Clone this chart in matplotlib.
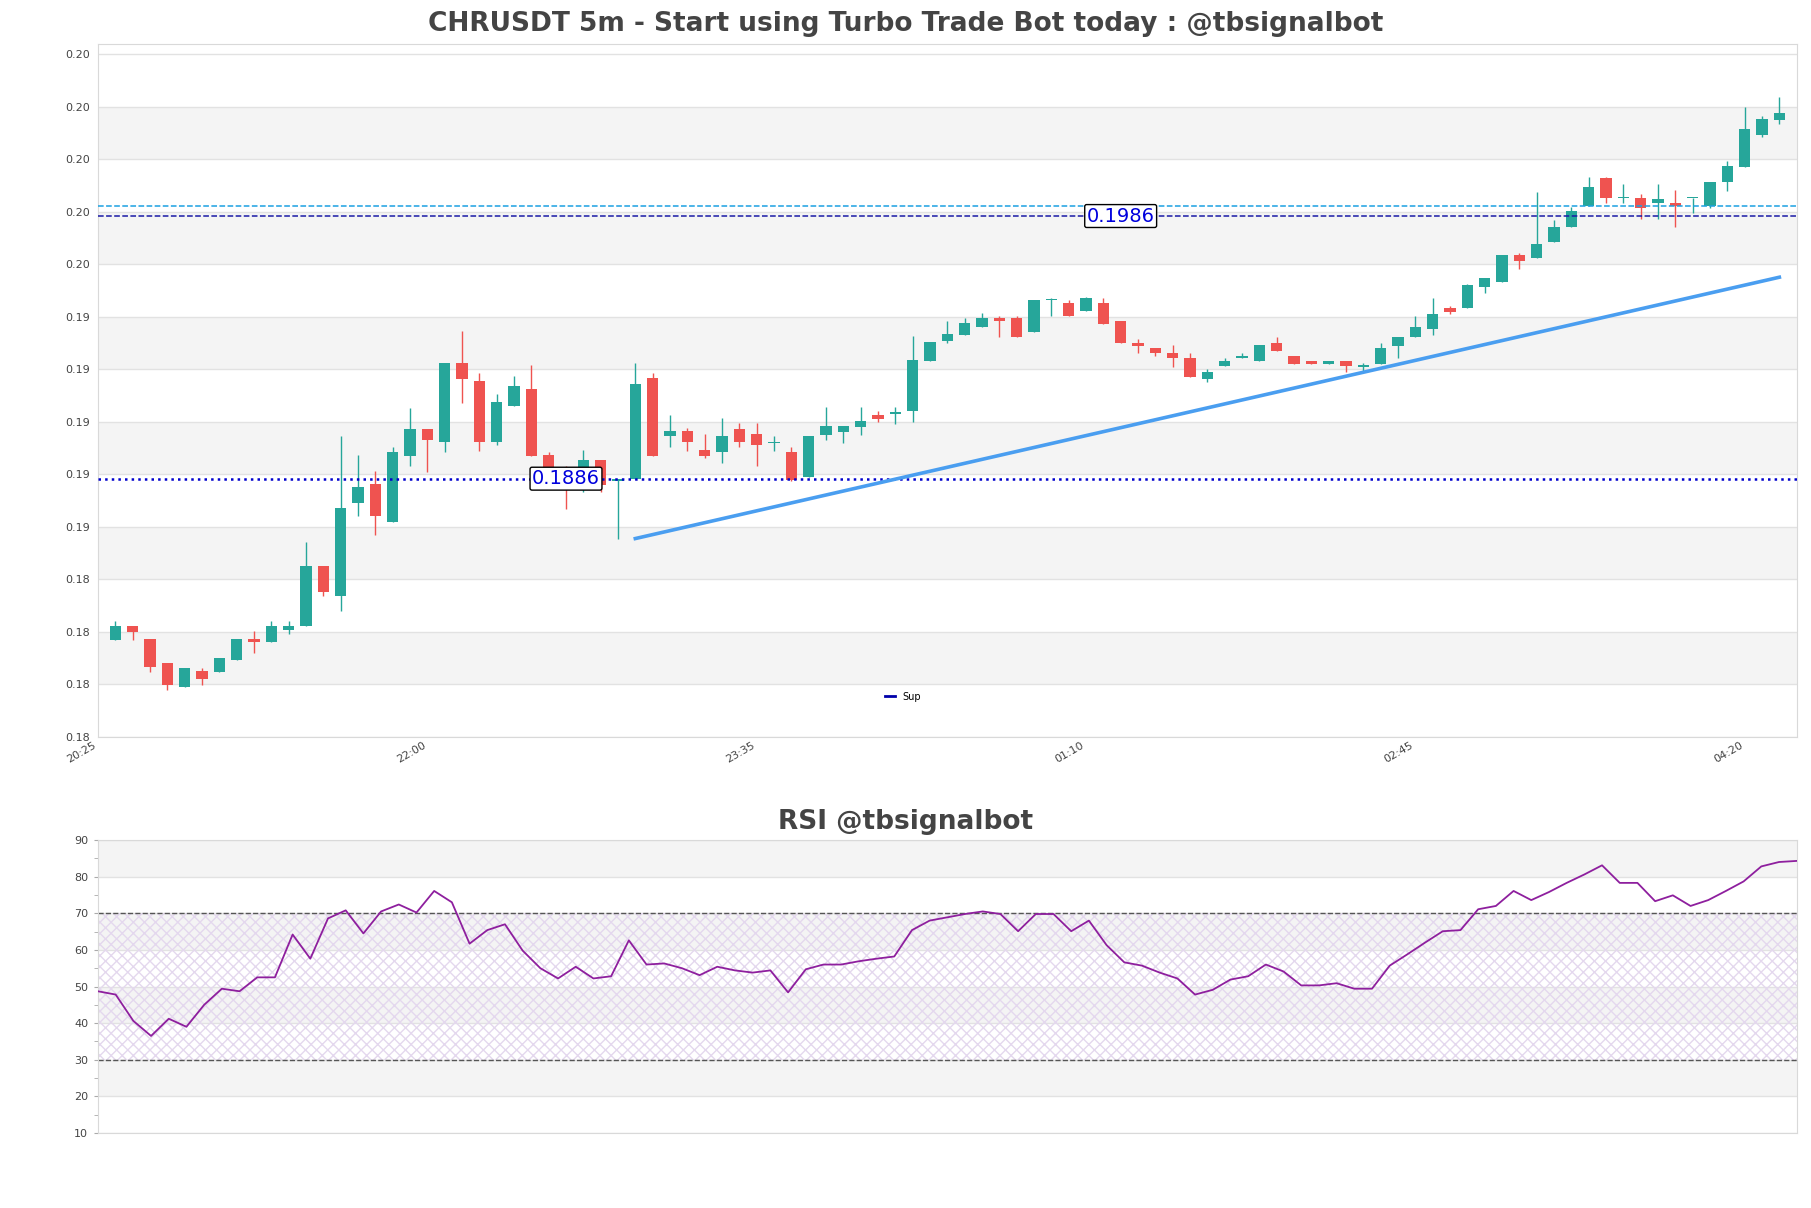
import numpy as np
import matplotlib
matplotlib.use('Agg')
import matplotlib.pyplot as plt
from matplotlib.ticker import FormatStrFormatter, MultipleLocator

title = 'CHRUSDT 5m - Start using Turbo Trade Bot today : @tbsignalbot'
rsi_title = 'RSI @tbsignalbot'

# 5m candles, 20:30 -> 04:30
opens = [0.18247, 0.18300, 0.18251, 0.18160, 0.18066, 0.18129, 0.18125, 0.18169, 0.18251, 0.18237,
         0.18285, 0.18298, 0.18528, 0.18415, 0.18769, 0.18840, 0.18696, 0.18947, 0.19048, 0.18998,
         0.19302, 0.19232, 0.18998, 0.19138, 0.19202, 0.18951, 0.18900, 0.18828, 0.18932, 0.18851,
         0.18858, 0.19243, 0.19021, 0.19042, 0.18970, 0.18960, 0.19050, 0.19031, 0.18995, 0.18961,
         0.18867, 0.19027, 0.19038, 0.19057, 0.19102, 0.19108, 0.19118, 0.19308, 0.19386, 0.19407,
         0.19437, 0.19470, 0.19470, 0.19418, 0.19541, 0.19529, 0.19498, 0.19529, 0.19462, 0.19377,
         0.19358, 0.19340, 0.19320, 0.19238, 0.19288, 0.19318, 0.19307, 0.19377, 0.19328, 0.19309,
         0.19296, 0.19309, 0.19287, 0.19295, 0.19367, 0.19398, 0.19428, 0.19509, 0.19509, 0.19590,
         0.19609, 0.19710, 0.19700, 0.19761, 0.19818, 0.19899, 0.20003, 0.19928, 0.19929, 0.19909,
         0.19910, 0.19928, 0.19898, 0.19989, 0.20048, 0.20170, 0.20227]
highs = [0.18319, 0.18300, 0.18251, 0.18160, 0.18141, 0.18141, 0.18179, 0.18251, 0.18281, 0.18319,
         0.18319, 0.18619, 0.18528, 0.19022, 0.18950, 0.18889, 0.18979, 0.19130, 0.19048, 0.19302,
         0.19423, 0.19264, 0.19183, 0.19251, 0.19293, 0.18960, 0.18910, 0.18970, 0.18932, 0.18858,
         0.19302, 0.19264, 0.19102, 0.19052, 0.19031, 0.19091, 0.19071, 0.19071, 0.19021, 0.18981,
         0.19022, 0.19132, 0.19060, 0.19132, 0.19119, 0.19132, 0.19402, 0.19379, 0.19462, 0.19470,
         0.19489, 0.19481, 0.19481, 0.19542, 0.19548, 0.19542, 0.19550, 0.19548, 0.19462, 0.19390,
         0.19358, 0.19370, 0.19340, 0.19277, 0.19320, 0.19340, 0.19370, 0.19400, 0.19328, 0.19309,
         0.19309, 0.19309, 0.19299, 0.19377, 0.19400, 0.19480, 0.19548, 0.19518, 0.19600, 0.19623,
         0.19710, 0.19720, 0.19953, 0.19843, 0.19894, 0.20010, 0.20008, 0.19982, 0.19942, 0.19982,
         0.19961, 0.19929, 0.19991, 0.20071, 0.20274, 0.20242, 0.20312]
lows = [0.18247, 0.18247, 0.18125, 0.18057, 0.18066, 0.18076, 0.18125, 0.18169, 0.18195, 0.18237,
        0.18267, 0.18298, 0.18415, 0.18358, 0.18719, 0.18646, 0.18696, 0.18909, 0.18886, 0.18960,
        0.19150, 0.18967, 0.18990, 0.19138, 0.18948, 0.18890, 0.18746, 0.18808, 0.18808, 0.18631,
        0.18858, 0.18948, 0.18980, 0.18967, 0.18937, 0.18918, 0.18980, 0.18910, 0.18967, 0.18850,
        0.18867, 0.19009, 0.18996, 0.19027, 0.19077, 0.19069, 0.19076, 0.19308, 0.19376, 0.19407,
        0.19437, 0.19399, 0.19399, 0.19418, 0.19479, 0.19479, 0.19498, 0.19448, 0.19376, 0.19337,
        0.19326, 0.19286, 0.19246, 0.19227, 0.19288, 0.19318, 0.19307, 0.19348, 0.19296, 0.19296,
        0.19296, 0.19265, 0.19265, 0.19295, 0.19318, 0.19398, 0.19407, 0.19486, 0.19509, 0.19567,
        0.19609, 0.19658, 0.19700, 0.19761, 0.19818, 0.19899, 0.19909, 0.19909, 0.19850, 0.19850,
        0.19818, 0.19871, 0.19890, 0.19957, 0.20048, 0.20160, 0.20210]
closes = [0.18300, 0.18277, 0.18144, 0.18076, 0.18141, 0.18096, 0.18179, 0.18251, 0.18237, 0.18300,
          0.18300, 0.18528, 0.18427, 0.18748, 0.18828, 0.18719, 0.18961, 0.19048, 0.19008, 0.19302,
          0.19241, 0.18998, 0.19152, 0.19213, 0.18948, 0.18900, 0.18870, 0.18932, 0.18837, 0.18858,
          0.19221, 0.18948, 0.19042, 0.18998, 0.18948, 0.19023, 0.18998, 0.18990, 0.19000, 0.18855,
          0.19022, 0.19060, 0.19060, 0.19079, 0.19088, 0.19110, 0.19310, 0.19379, 0.19409, 0.19451,
          0.19470, 0.19460, 0.19399, 0.19542, 0.19542, 0.19479, 0.19548, 0.19448, 0.19376, 0.19367,
          0.19337, 0.19318, 0.19246, 0.19267, 0.19309, 0.19328, 0.19370, 0.19348, 0.19296, 0.19296,
          0.19309, 0.19288, 0.19289, 0.19358, 0.19400, 0.19438, 0.19486, 0.19496, 0.19598, 0.19623,
          0.19710, 0.19689, 0.19752, 0.19820, 0.19881, 0.19972, 0.19929, 0.19930, 0.19891, 0.19923,
          0.19898, 0.19929, 0.19991, 0.20052, 0.20191, 0.20231, 0.20253]

rsi = [48.7, 47.8, 40.6, 36.5, 41.2, 39.0, 45.0, 49.4, 48.7, 52.5,
       52.5, 64.2, 57.6, 68.6, 70.8, 64.5, 70.5, 72.4, 70.2, 76.1,
       73.0, 61.7, 65.4, 67.0, 59.8, 55.0, 52.2, 55.4, 52.2, 52.8,
       62.6, 56.0, 56.3, 55.0, 53.1, 55.4, 54.4, 53.8, 54.4, 48.4,
       54.7, 56.0, 56.0, 56.9, 57.6, 58.2, 65.4, 68.0, 68.9, 69.8,
       70.5, 69.8, 65.1, 69.8, 69.8, 65.1, 68.0, 61.3, 56.6, 55.7,
       53.8, 52.2, 47.8, 49.1, 51.9, 52.8, 56.0, 54.1, 50.3, 50.3,
       50.9, 49.4, 49.4, 55.7, 58.8, 62.0, 65.1, 65.4, 71.1, 72.0,
       76.1, 73.6, 75.8, 78.3, 80.6, 83.1, 78.3, 78.3, 73.3, 74.9,
       72.0, 73.6, 76.1, 78.7, 82.8, 84.0, 84.3]

time_labels = ['20:25', '22:00', '23:35', '01:10', '02:45', '04:20']
label_step = 19

support = 0.1886
resistance = 0.1986
resistance_2 = 0.1990
support_label_x = 26
resistance_label_x = 58
trend_x = [30, 96]
trend_y = [0.18632, 0.19627]

UP = '#26a69a'
DOWN = '#ef5350'
TXT = '#444444'
GRID = '#e2e2e2'

AX_LEFT = 0.0541
AX_W = 0.938
TITLE_X = (0.5 - AX_LEFT) / AX_W   # titles are centred on the figure


def shade_bands(ax, ticks):
    # alternate grey bands between every other pair of ticks
    for k in range(1, len(ticks) - 1, 2):
        ax.axhspan(ticks[k], ticks[k + 1], color='#f4f4f4', lw=0, zorder=0)
    for t in ticks:
        ax.axhline(t, color=GRID, lw=1, zorder=0.5)


def style_axes(ax):
    for s in ax.spines.values():
        s.set_color('#d9d9d9')
    ax.tick_params(colors=TXT, labelsize=8)


fig = plt.figure(figsize=(18.11, 12.08), dpi=100)
ax = fig.add_axes([AX_LEFT, 0.3899, AX_W, 0.5737])
ax2 = fig.add_axes([AX_LEFT, 0.0621, AX_W, 0.2425])

# ---- price chart ----
x = np.arange(len(opens))
o = np.array(opens)
c = np.array(closes)
colors = [UP if cc >= oo else DOWN for oo, cc in zip(o, c)]
body_lo = np.minimum(o, c)
body_h = np.maximum(np.abs(c - o), 0.00004)

ymin = min(lows) * 0.99
ymax = max(highs) * 1.01
yticks = np.arange(ymin, ymax, 0.002)
shade_bands(ax, yticks)

ax.vlines(x, lows, highs, colors=colors, lw=1.0, zorder=2)
ax.bar(x, body_h, bottom=body_lo, width=0.64, color=colors, zorder=2.5)

ax.axhline(support, color='#0000cc', ls=':', lw=1.8, zorder=3)
ax.axhline(resistance, color='#1a1aa6', ls='--', lw=1.1, zorder=3)
ax.axhline(resistance_2, color='#1ba1e2', ls='--', lw=1.1, zorder=3)
ax.plot(trend_x, trend_y, color='#4a9ef0', lw=2.6, zorder=3)
ax.plot([], [], color='#0000aa', lw=2, label='Sup')

box = dict(boxstyle='round,pad=0.1', fc='white', ec='black', lw=1)
ax.text(support_label_x, support, '%.4f' % support, color='#0000dd', fontsize=14,
        ha='center', va='center', bbox=box, zorder=5)
ax.text(resistance_label_x, resistance, '%.4f' % resistance, color='#0000dd', fontsize=14,
        ha='center', va='center', bbox=box, zorder=5)

ax.set_xlim(-1, len(opens))
ax.set_ylim(ymin, ymax)
ax.set_yticks(yticks)
ax.yaxis.set_major_formatter(FormatStrFormatter('%.2f'))
ax.set_xticks(np.arange(len(time_labels)) * label_step - 1)
ax.set_xticklabels(time_labels, rotation=30, ha='right')
style_axes(ax)
ax.tick_params(length=0, pad=6)
ax.tick_params(axis='x', pad=2)
ax.legend(loc='center', bbox_to_anchor=(0.474, 0.058), frameon=False, fontsize=7,
          handlelength=1.0)
ax.set_title(title, fontsize=19, fontweight='bold', color=TXT, pad=9, x=TITLE_X)

# ---- RSI ----
rticks = np.arange(10, 91, 10)
shade_bands(ax2, rticks)
xr = np.arange(len(rsi))
ax2.fill_between(xr, 30, 70, facecolor='none', edgecolor='#e4d8ee', hatch='xxx', lw=0, zorder=1)
ax2.axhline(30, color='#555555', ls='--', lw=1, zorder=2)
ax2.axhline(70, color='#555555', ls='--', lw=1, zorder=2)
ax2.plot(xr, rsi, color='#8e1f9e', lw=1.3, zorder=3)
ax2.set_xlim(0, len(rsi) - 1)
ax2.set_ylim(10, 90)
ax2.set_yticks(rticks)
ax2.yaxis.set_minor_locator(MultipleLocator(5))
ax2.set_xticks([])
style_axes(ax2)
ax2.tick_params(axis='y', which='both', length=3, color='#aaaaaa', pad=4)
ax2.set_title(rsi_title, fontsize=19, fontweight='bold', color=TXT, pad=8, x=TITLE_X)

fig.savefig('out.png', dpi=100)
